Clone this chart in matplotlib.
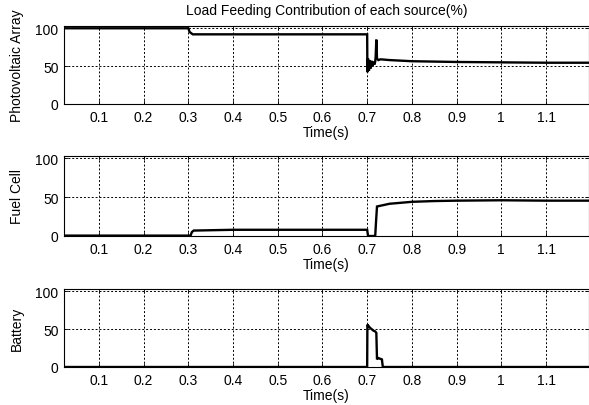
import matplotlib
matplotlib.use('Agg')
import matplotlib.pyplot as plt
from matplotlib.ticker import FormatStrFormatter

plt.rcParams['font.family'] = ['Liberation Sans', 'DejaVu Sans']
plt.rcParams['font.size'] = 10

# Photovoltaic array share (%)
pv_t = [0.0, 0.300, 0.303, 0.310, 0.500, 0.700, 0.7005, 0.702, 0.704, 0.706, 0.708,
        0.710, 0.712, 0.714, 0.716, 0.718, 0.719, 0.7205, 0.722, 0.725, 0.73, 0.75,
        0.80, 0.90, 1.00, 1.10, 1.20]
pv_v = [100, 100, 95, 92, 92, 92, 42, 60, 44, 58, 47, 57, 50, 56, 52, 56, 62, 85,
        60, 58, 59, 58, 56.5, 55.5, 55, 54.5, 54.5]

# Fuel cell share (%)
fc_t = [0.0, 0.305, 0.308, 0.312, 0.40, 0.50, 0.60, 0.700, 0.702, 0.718, 0.720,
        0.722, 0.73, 0.75, 0.80, 0.85, 0.90, 1.00, 1.10, 1.20]
fc_v = [0.5, 0.5, 5, 7, 8, 8, 8, 8, 0, 0, 20, 38, 39, 41.5, 44, 45, 45.5, 46, 45.5, 45.5]

# Battery share (%)
bt_t = [0.0, 0.700, 0.7005, 0.702, 0.706, 0.710, 0.714, 0.718, 0.7205, 0.722,
        0.724, 0.733, 0.735, 1.20]
bt_v = [0, 0, 56, 55, 52, 50, 48, 47, 45, 10, 12, 10, 0, 0]

panels = [
    ('Photovoltaic Array', pv_t, pv_v),
    ('Fuel Cell', fc_t, fc_v),
    ('Battery', bt_t, bt_v),
]
x_ticks = [0.1, 0.2, 0.3, 0.4, 0.5, 0.6, 0.7, 0.8, 0.9, 1.0, 1.1]
y_ticks = [0, 50, 100]

W, H = 589, 406
fig = plt.figure(figsize=(W / 100, H / 100), dpi=100)
# axes boxes in pixels: (top, bottom)
boxes = [(27, 105), (157, 237), (290, 368)]
left_px, right_px = 64, 588.5

for (label, t, v), (top, bot) in zip(panels, boxes):
    ax = fig.add_axes([left_px / W, 1 - bot / H, (right_px - left_px) / W, (bot - top) / H])
    ax.plot(t, v, color='black', lw=1.7, solid_joinstyle='miter')
    ax.set_xlim(0.022, 1.195)
    ax.set_ylim(0, 103)
    ax.set_xticks(x_ticks)
    ax.set_yticks(y_ticks)
    ax.xaxis.set_major_formatter(FormatStrFormatter('%g'))
    ax.grid(True, color='black', linestyle=(0, (2, 2)), linewidth=0.7)
    ax.tick_params(direction='in', length=3, width=0.6, top=True, right=True,
                   labelsize=10, pad=4)
    for s in ax.spines.values():
        s.set_linewidth(0.8)
    ax.set_xlabel('Time(s)', fontsize=10, labelpad=1)
    ax.set_ylabel(label, fontsize=10, labelpad=8)
    if label == 'Photovoltaic Array':
        ax.set_title('Load Feeding Contribution of each source(%)', fontsize=10, pad=9)

fig.savefig('out.png', dpi=100)
